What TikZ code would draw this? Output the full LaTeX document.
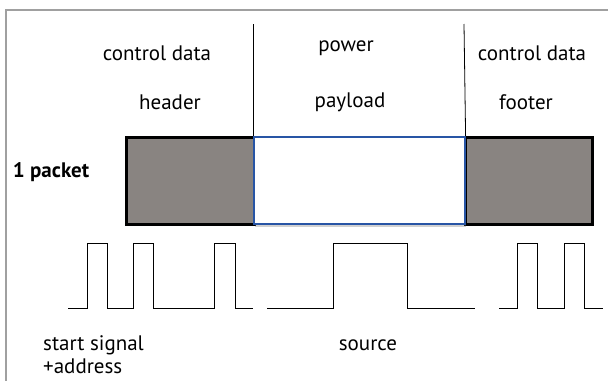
\documentclass[tikz,border=0pt]{standalone}
\usepackage{fontspec}
\setmainfont{PT Sans}
\usetikzlibrary{positioning,calc,shadows}
\definecolor{framegray}{RGB}{160,160,160}
\definecolor{fieldgray}{RGB}{137,132,129}
\definecolor{payloadblue}{RGB}{40,85,165}

\tikzset{
  lbl/.style={font=\fontsize{21}{24}\selectfont, inner sep=0pt},
  ctrlfield/.style={draw=black, line width=2.6pt, fill=fieldgray, minimum height=87pt, inner sep=0pt},
  powerfield/.style={draw=payloadblue, line width=1.6pt, fill=white, minimum height=87pt, inner sep=0pt,
    drop shadow={shadow xshift=1.5pt, shadow yshift=-3pt, opacity=0.3, fill=black!60}},
  sig/.style={line width=1pt, line join=miter}
}

\begin{document}
\begin{tikzpicture}[x=1pt, y=-1pt]
    \useasboundingbox (0,0) rectangle (608,381);

    % Frame
    \draw[framegray, line width=2pt] (608,10) -- (6,10) -- (6,381);

    % Packet fields
    \node[ctrlfield, minimum width=128pt, anchor=north west] (header) at (125,136) {};
    \node[ctrlfield, minimum width=127pt, anchor=north west] (footer) at (464,136) {};
    \node[powerfield, minimum width=211pt, anchor=north west] (payload) at (253,136) {};
    \node[lbl, font=\fontsize{21}{24}\selectfont\bfseries] (packet) at (51,172) {1 packet};

    % Separators
    \coordinate (sepa) at (253,24);
    \coordinate (sepb) at (464,24);
    \draw[line width=0.8pt] (sepa) -- (payload.north west);
    \draw[line width=0.8pt] (sepb) -- (payload.north east);

    % Field labels
    \node[lbl] (ctrlhead) at (157,53) {control data};
    \node[lbl] (headtxt) at (170,102) {header};
    \node[lbl] (powertxt) at (346,48) {power};
    \node[lbl] (loadtxt) at (350,102) {payload};
    \node[lbl] (ctrlfoot) at (532,53) {control data};
    \node[lbl] (foottxt) at (526,102) {footer};

    % Signals
    \draw[sig] (68,308) -- (87,308) -- (87,243) -- (107,243) -- (107,308) -- (133,308)
        -- (133,243) -- (153,243) -- (153,308) -- (214,308) -- (214,243) -- (235,243)
        -- (235,308) -- (253,308);
    \draw[sig] (267,308) -- (333,308) -- (333,243) -- (407,243) -- (407,308) -- (475,308);
    \draw[sig] (499,308) -- (517,308) -- (517,243) -- (537,243) -- (537,308) -- (564,308)
        -- (564,243) -- (584,243) -- (584,308) -- (603,308);

    % Signal labels
    \node[lbl, anchor=west, align=left] (start) at (43,355) {start signal\\[-1pt]+address};
    \node[lbl] (source) at (368,345) {source};
\end{tikzpicture}
\end{document}
